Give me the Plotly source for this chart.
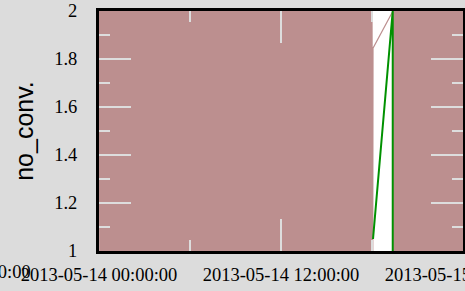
import pandas as pd
import plotly.graph_objects as go

# --- data ---
# no_conv. series: sampled every minute, alternating between 1 and 2,
# with a gap from about 18:04 to 19:23
seg1_start, seg1_end = "2013-05-14 00:00:00", "2013-05-14 18:03:00"
seg1_last_time, seg1_last_value = "2013-05-14 18:04:00", 1.845
seg2_start, seg2_end = "2013-05-14 19:23:00", "2013-05-15 00:00:00"
alternating_pattern = [2, 1]

# green series
green_times = ["2013-05-14 18:04:00", "2013-05-14 19:22:00", "2013-05-14 19:22:00"]
green_values = [1.05, 2.0, 1.0]

x_range = ["2013-05-14 00:00:00", "2013-05-15 00:00:00"]
y_range = [1, 2]
left_cut_label = "2013-05-13 12:00:00"

# --- build series ---
t1 = list(pd.date_range(seg1_start, seg1_end, freq="1min"))
v1 = [alternating_pattern[i % 2] for i in range(len(t1))]
t1.append(pd.Timestamp(seg1_last_time))
v1.append(seg1_last_value)
t2 = list(pd.date_range(seg2_start, seg2_end, freq="1min"))
v2 = [alternating_pattern[i % 2] for i in range(len(t2))]
times = t1 + t2
values = v1 + v2

fig = go.Figure()
fig.add_trace(go.Scatter(x=times, y=values, mode="lines",
                         line=dict(color="#bc8f8f", width=1.2), showlegend=False,
                         hoverinfo="skip"))
fig.add_trace(go.Scatter(x=pd.to_datetime(green_times), y=green_values, mode="lines",
                         line=dict(color="#009100", width=2), showlegend=False))

serif = "Liberation Serif"
tick_col = "#dddddd"
fs = 18.5
fig.update_layout(
    width=465, height=291,
    paper_bgcolor="#dcdcdc", plot_bgcolor="white",
    margin=dict(l=99, r=2, t=11, b=40),
    font=dict(family=serif, size=fs, color="black"),
    xaxis=dict(
        range=x_range, type="date", tick0="2013-05-14", dtick=12 * 3600 * 1000,
        tickformat="%Y-%m-%d %H:%M:%S", ticks="inside", ticklen=32, tickwidth=2,
        tickcolor=tick_col, showgrid=False, zeroline=False,
        showline=True, linecolor="black", linewidth=3, mirror="allticks",
        minor=dict(dtick=6 * 3600 * 1000, ticks="inside", ticklen=11, tickwidth=2,
                   tickcolor=tick_col, showgrid=False),
        automargin=False, ticklabelstandoff=5, ticklabeloverflow="allow",
        tickfont=dict(family=serif, size=fs),
    ),
    yaxis=dict(
        range=y_range, dtick=0.2, ticks="inside", ticklen=32, tickwidth=2,
        tickcolor=tick_col, showgrid=False, zeroline=False,
        showline=True, linecolor="black", linewidth=3, mirror="allticks",
        minor=dict(dtick=0.1, ticks="inside", ticklen=11, tickwidth=2,
                   tickcolor=tick_col, showgrid=False),
        tickfont=dict(family=serif, size=fs),
        ticklabelstandoff=15, ticklabeloverflow="allow",
        title=dict(text="no_conv.", font=dict(family="Liberation Sans", size=25),
                   standoff=14),
        automargin=False,
    ),
)
fig.add_annotation(text=left_cut_label, xref="paper", yref="paper",
                   x=(33 - 99) / 364, y=0, xanchor="right", yanchor="top",
                   yshift=-9, showarrow=False, font=dict(family=serif, size=fs))
fig.write_html("out.html", config={"displayModeBar": False},
               post_script="document.body.style.margin='0';")
